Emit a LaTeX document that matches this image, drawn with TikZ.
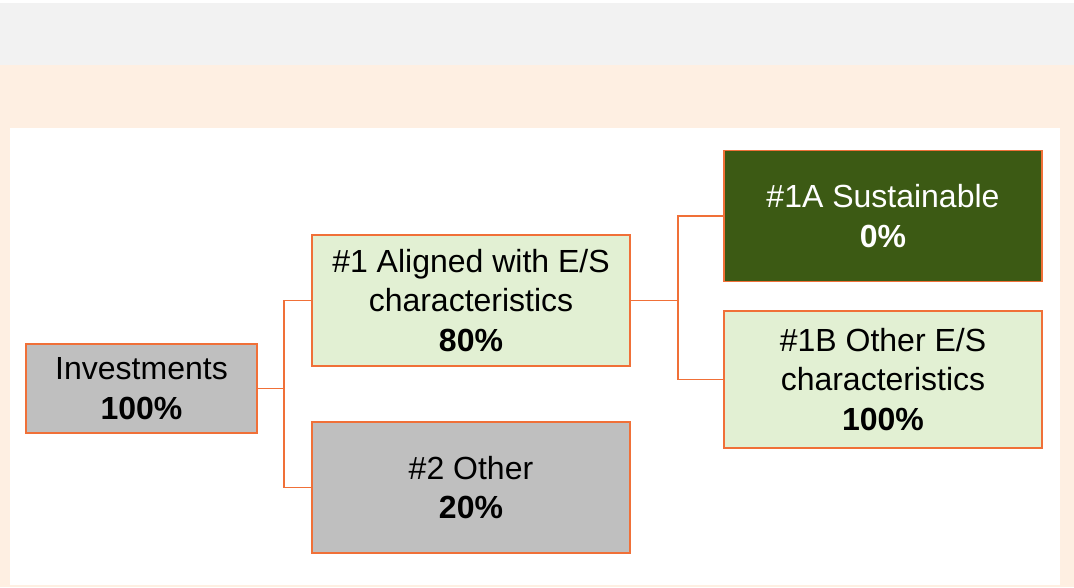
\documentclass[tikz,border=0pt]{standalone}
\usepackage{fontspec}
\setmainfont{Liberation Sans}
\definecolor{bandgray}{HTML}{F2F2F2}
\definecolor{peach}{HTML}{FEEFE2}
\definecolor{edgeorange}{HTML}{F07038}
\definecolor{boxgray}{HTML}{BFBFBF}
\definecolor{palegreen}{HTML}{E2F0D3}
\definecolor{darkgreen}{HTML}{3C5A14}
\tikzset{
  box/.style={draw=edgeorange,line width=1.3pt,align=center,inner sep=0pt,
    minimum width=318,minimum height=131,
    font=\fontsize{32}{39.5}\selectfont},
  link/.style={draw=edgeorange,line width=1.3pt}
}
\begin{document}
\begin{tikzpicture}[x=1pt,y=-1pt]
      \useasboundingbox (0,0) rectangle (1074,587);
      \fill[bandgray] (0,3) rectangle (1074,65);
      \fill[peach] (0,65) rectangle (1074,587);
      \fill[white] (10,128) rectangle (1060,585);
      \draw
        (141.5,388.5) node[box,fill=boxgray,minimum width=231,minimum height=89] (inv){Investments\\\textbf{100\%}}
        (471,300.5) node[box,fill=palegreen] (aln){\#1 Aligned with E/S\\characteristics\\\textbf{80\%}}
        (471,487.5) node[box,fill=boxgray] (oth){\#2 Other\\\textbf{20\%}}
        (883,216) node[box,fill=darkgreen,text=white] (sus){\#1A Sustainable\\\textbf{0\%}}
        (883,379.5) node[box,fill=palegreen,minimum height=137] (oes){\#1B Other E/S\\characteristics\\\textbf{100\%}};
      \coordinate (j1) at (284,388.5);
      \coordinate (j2) at (678,300.5);
      \begin{scope}[link]
        \draw (inv.east) -- (j1);
        \draw (j1) |- (aln.west);
        \draw (j1) |- (oth.west);
        \draw (aln.east) -- (j2);
        \draw (j2) |- (sus.west);
        \draw (j2) |- (oes.west);
      \end{scope}
    \end{tikzpicture}
\end{document}
